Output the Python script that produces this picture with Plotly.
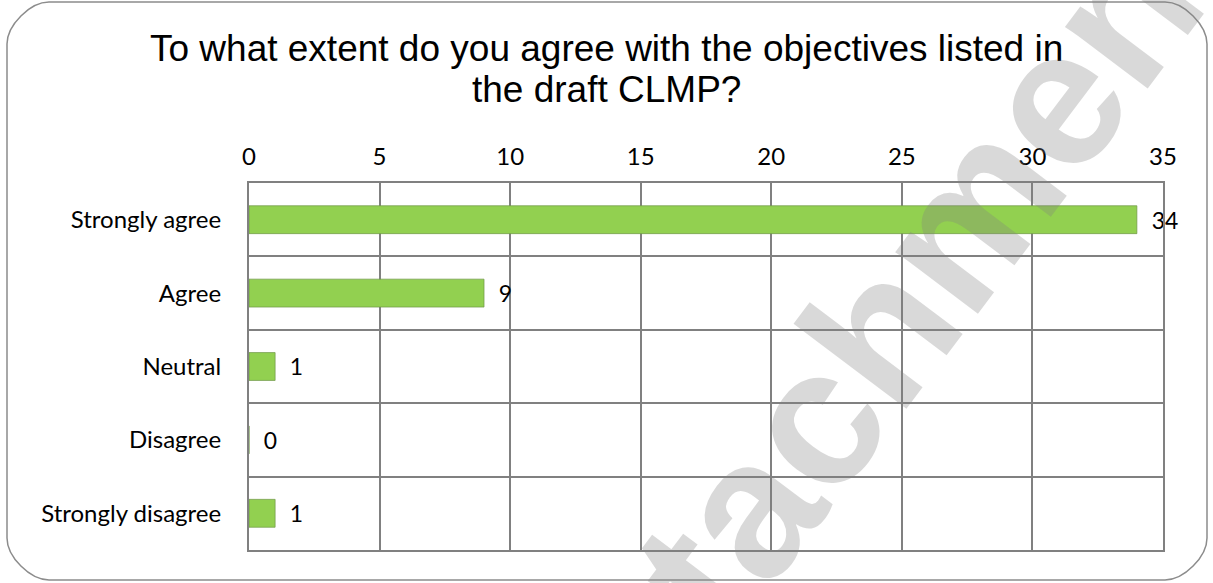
import plotly.graph_objects as go

categories = ["Strongly agree", "Agree", "Neutral", "Disagree", "Strongly disagree"]
values = [34, 9, 1, 0, 1]
x_ticks = [0, 5, 10, 15, 20, 25, 30, 35]
title_lines = ["To what extent do you agree with the objectives listed in", "the draft CLMP?"]
watermark = "<b>Attachment</b>"

W, H = 1213, 583
ML, MR, MT, MB = 249, 50, 183, 33
PW, PH = W - ML - MR, H - MT - MB

def px(x):
    return (x - ML) / PW

def py(y):
    return (H - MB - y) / PH

NB = "\u00a0\u00a0"
fig = go.Figure(go.Bar(
    y=categories, x=values, orientation="h",
    marker=dict(color="#92D050", line=dict(color="rgba(110,150,70,0.7)", width=1)),
    width=0.38,
    text=[NB + str(v) for v in values], textposition="outside",
    textfont=dict(family="Lato", size=23, color="#000000"),
    cliponaxis=False,
))

# rounded outer frame
x0, y0, x1, y1, r = 7, 2, 1207, 580, 42
k = 0.45 * r
path = (
    f"M {px(x0 + r)},{py(y0)} L {px(x1 - r)},{py(y0)} "
    f"C {px(x1 - r + k)},{py(y0)} {px(x1)},{py(y0 + r - k)} {px(x1)},{py(y0 + r)} "
    f"L {px(x1)},{py(y1 - r)} "
    f"C {px(x1)},{py(y1 - r + k)} {px(x1 - r + k)},{py(y1)} {px(x1 - r)},{py(y1)} "
    f"L {px(x0 + r)},{py(y1)} "
    f"C {px(x0 + r - k)},{py(y1)} {px(x0)},{py(y1 - r + k)} {px(x0)},{py(y1 - r)} "
    f"L {px(x0)},{py(y0 + r)} "
    f"C {px(x0)},{py(y0 + r - k)} {px(x0 + r - k)},{py(y0)} {px(x0 + r)},{py(y0)} Z"
)
fig.add_shape(type="path", path=path, xref="paper", yref="paper",
              line=dict(color="#8c8c8c", width=1.5), fillcolor="rgba(0,0,0,0)", layer="below")

for line, yc in zip(title_lines, [49, 90]):
    fig.add_annotation(text=line, xref="paper", yref="paper",
                       x=px(606), y=py(yc), showarrow=False,
                       font=dict(family="Liberation Sans, Arial", size=37, color="#000000"),
                       xanchor="center", yanchor="middle", align="center")

fig.add_annotation(text=watermark, xref="paper", yref="paper",
                   x=px(873), y=py(340), showarrow=False, textangle=-53,
                   font=dict(family="Liberation Sans, Arial", size=195, color="rgba(128,128,128,0.3)"),
                   xanchor="center", yanchor="middle")

fig.update_layout(
    width=W, height=H,
    margin=dict(l=ML, r=MR, t=MT, b=MB),
    paper_bgcolor="white", plot_bgcolor="white",
    showlegend=False,
    xaxis=dict(side="top", range=[0, 35], tickvals=x_ticks,
               showgrid=True, gridcolor="#808080", gridwidth=2,
               showline=True, linecolor="#808080", linewidth=2, mirror=True,
               zeroline=False, ticks="", ticklabelstandoff=6,
               tickfont=dict(family="Lato", size=24, color="#000000")),
    yaxis=dict(autorange="reversed", type="category", tickson="boundaries",
               showgrid=True, gridcolor="#808080", gridwidth=2,
               showline=True, linecolor="#808080", linewidth=2, mirror=True,
               ticks="", ticklabelstandoff=21,
               tickfont=dict(family="Lato", size=24, color="#000000")),
)

fig.write_html("out.html")
